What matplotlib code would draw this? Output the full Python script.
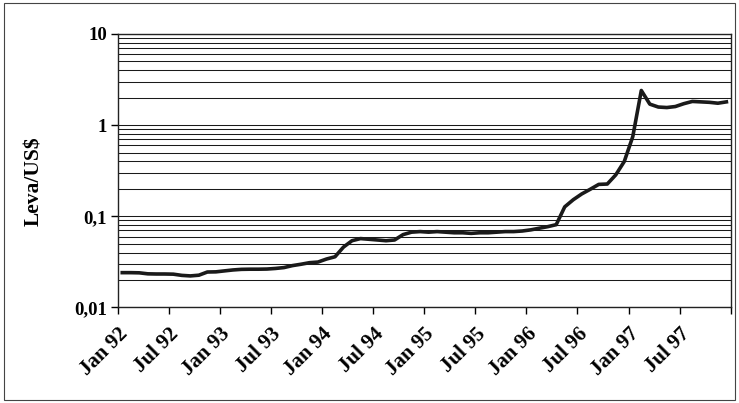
import numpy as np
import matplotlib.pyplot as plt
from matplotlib.ticker import FixedLocator, NullFormatter

plt.rcParams['font.family'] = ['Liberation Serif', 'DejaVu Serif']
plt.rcParams['font.weight'] = 'bold'

# monthly exchange rate, Jan 92 .. Dec 97
rate_92 = [0.0241, 0.0241, 0.0240, 0.0234, 0.0233, 0.0233,
           0.0232, 0.0225, 0.0222, 0.0226, 0.0245, 0.0246]
rate_93 = [0.0252, 0.0258, 0.0262, 0.0263, 0.0263, 0.0264,
           0.0268, 0.0274, 0.0288, 0.0298, 0.0310, 0.0315]
rate_94 = [0.0340, 0.0360, 0.0460, 0.0540, 0.0570, 0.0560,
           0.0550, 0.0540, 0.0550, 0.0630, 0.0670, 0.0680]
rate_95 = [0.0670, 0.0680, 0.0670, 0.0660, 0.0660, 0.0650,
           0.0660, 0.0660, 0.0670, 0.0680, 0.0680, 0.0690]
rate_96 = [0.071, 0.074, 0.077, 0.081, 0.127, 0.152,
           0.176, 0.198, 0.224, 0.226, 0.285, 0.400]
rate_97 = [0.75, 2.4, 1.7, 1.58, 1.56, 1.6,
           1.72, 1.82, 1.8, 1.78, 1.74, 1.8]
rate = rate_92 + rate_93 + rate_94 + rate_95 + rate_96 + rate_97

tick_labels = ['Jan 92', 'Jul 92', 'Jan 93', 'Jul 93', 'Jan 94', 'Jul 94',
               'Jan 95', 'Jul 95', 'Jan 96', 'Jul 96', 'Jan 97', 'Jul 97']

fig = plt.figure(figsize=(7.39, 4.03), dpi=100)
ax = fig.add_axes([0.1597, 0.237, 0.829, 0.6787])

x = np.arange(len(rate)) + 0.5
ax.plot(x, rate, color='#1a1a1a', lw=2.6, solid_joinstyle='round')

ax.set_yscale('log')
ax.set_ylim(0.01, 10)
ax.set_xlim(0, len(rate))

ax.yaxis.set_major_locator(FixedLocator([0.01, 0.1, 1, 10]))
ax.set_yticklabels(['0,01', '0,1', '1', '10'])
minors = [m * d for d in (0.01, 0.1, 1) for m in range(2, 10)]
ax.yaxis.set_minor_locator(FixedLocator(minors))
ax.yaxis.set_minor_formatter(NullFormatter())
ax.tick_params(axis='y', which='minor', length=0)
ax.grid(True, which='both', axis='y', color='#1a1a1a', lw=0.75)

ax.set_xticks(np.arange(0, len(rate) + 1, 6))
ax.set_xticklabels(tick_labels + [''], rotation=45, ha='right',
                   rotation_mode='anchor', va='top')
ax.tick_params(axis='x', which='major', length=5, width=1, pad=7, labelsize=15)
ax.tick_params(axis='y', which='major', length=5, width=1, pad=3, labelsize=13.5)

for s in ax.spines.values():
    s.set_color('#222222')
    s.set_linewidth(1.0)

ax.set_ylabel('Leva/US$', fontsize=15.5, fontweight='bold')
ax.yaxis.set_label_coords(-0.121, 0.46)

fig.patches.append(plt.Rectangle((0.005, 0.008), 0.99, 0.985, transform=fig.transFigure,
                                 fill=False, edgecolor='#444444', lw=0.8))

fig.savefig('out.png', dpi=100)
